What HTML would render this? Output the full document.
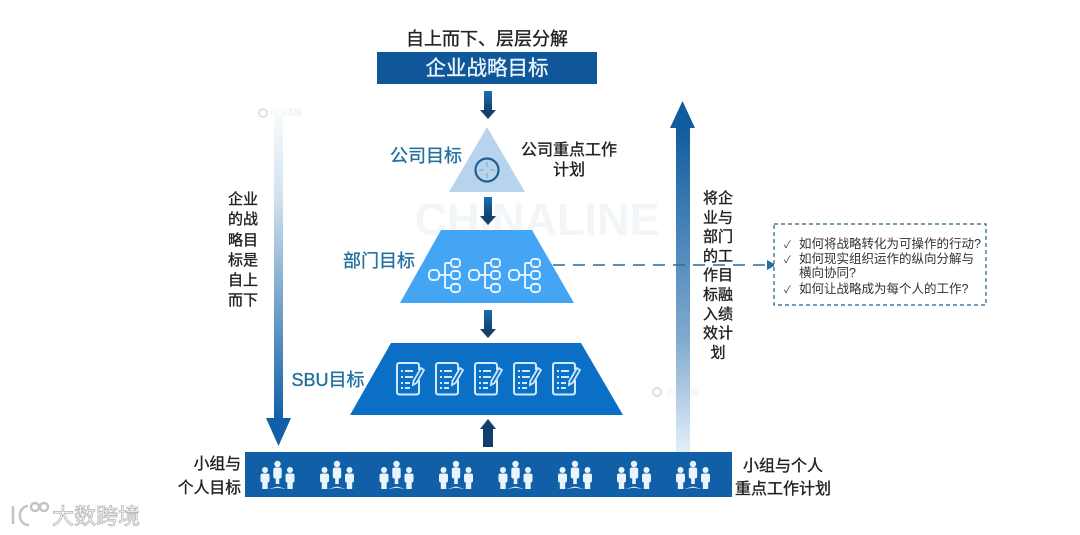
<!DOCTYPE html>
<html lang="zh">
<head>
<meta charset="utf-8">
<style>
html,body{margin:0;padding:0;background:#fff;width:1080px;height:535px;overflow:hidden}
svg{display:block;filter:blur(.35px)}
text{font-family:"Liberation Sans","Noto Sans CJK SC",sans-serif}
.h{stroke:currentColor;stroke-width:.35px}
</style>
</head>
<body>
<svg width="1080" height="535" viewBox="0 0 1080 535" xmlns="http://www.w3.org/2000/svg">
<defs>
<linearGradient id="gl" x1="0" y1="0" x2="0" y2="1"><stop offset="0" stop-color="#ffffff"/><stop offset="0.3" stop-color="#d3e2ef"/><stop offset="1" stop-color="#0f60a6"/></linearGradient>
<linearGradient id="gr" x1="0" y1="1" x2="0" y2="0"><stop offset="0" stop-color="#e4eff8"/><stop offset="0.35" stop-color="#7faacf"/><stop offset="1" stop-color="#0f5c9f"/></linearGradient>
<linearGradient id="ga" x1="0" y1="0" x2="0" y2="1"><stop offset="0" stop-color="#1c70b4"/><stop offset="1" stop-color="#0e3f6e"/></linearGradient>
<g id="arrow"><rect x="-4" y="0" width="8" height="20" fill="url(#ga)"/><path d="M-8 19H8L0 28Z" fill="#123f6b"/></g>
<g id="tree" fill="none" stroke="#e4f3fe" stroke-width="1.900">
<rect x="0" y="11" width="10" height="10" rx="3.500"/>
<rect x="22" y="0" width="9" height="8" rx="3"/>
<rect x="22" y="12" width="9" height="8" rx="3"/>
<rect x="22" y="25" width="9" height="8" rx="3"/>
<path d="M10 16H16M16 4V29M16 4H22M16 16H22M16 29H22"/>
</g>
<g id="doc">
<path d="M22 7V2.500Q22 0 19.500 0H2.500Q0 0 0 2.500V29Q0 31.500 2.500 31.500H19.500Q22 31.500 22 29V17" fill="none" stroke="#cfe9fb" stroke-width="2"/>
<path d="M4 8h2M8 8h8M4 14h2M8 14h8M4 20h2M8 20h5M4 25h2M8 25h5" stroke="#cfe9fb" stroke-width="2" fill="none"/>
<path d="M24 5l3 2-7.500 13-3.500 2 .4-4z" fill="none" stroke="#cfe9fb" stroke-width="1.800"/>
</g>
<g id="people" fill="#e9f5fd">
<circle cx="0" cy="3" r="3.200"/><rect x="-4.200" y="6.500" width="8.400" height="11" rx="2"/><rect x="-1.800" y="17" width="3.600" height="6"/>
<circle cx="-12.500" cy="9" r="3"/><rect x="-17" y="12.500" width="9" height="9" rx="2"/><rect x="-15.200" y="20" width="5.400" height="8"/>
<circle cx="12.500" cy="9" r="3"/><rect x="8" y="12.500" width="9" height="9" rx="2"/><rect x="9.800" y="20" width="5.400" height="8"/>
<path d="M-9 28L0 25.500L9 28L0 26.700Z"/>
</g>
</defs>

<!-- watermarks -->
<text x="537" y="235" text-anchor="middle" font-size="45" font-weight="700" fill="#f3f6f8" style="font-family:'Liberation Sans',sans-serif">CHINALINE</text>
<g fill="#e3ebf1" font-size="8"><circle cx="263" cy="113" r="4" fill="none" stroke="#d5e1ea" stroke-width="2"/><text x="270" y="115">小象咨询</text>
<circle cx="657" cy="392" r="4" fill="none" stroke="#d5e1ea" stroke-width="2"/><text x="666" y="395">小象咨询</text></g>

<!-- top -->
<text class="h" x="487" y="45" text-anchor="middle" font-size="18" fill="#222" color="#222">自上而下、层层分解</text>
<rect x="377" y="52" width="220" height="32" fill="#0f5799"/>
<text class="h" x="487" y="75" text-anchor="middle" font-size="20.500" fill="#e8f3fa" color="#e8f3fa">企业战略目标</text>
<use href="#arrow" x="488" y="91"/>

<!-- triangle -->
<path d="M487 127L525 192H449Z" fill="#b7d4ec"/>
<circle cx="487" cy="170" r="11.500" fill="none" stroke="#1b5f96" stroke-width="2.200"/>
<path d="M487 162v5M487 173v5M479 170h5M490 170h5" stroke="#7ba8cb" stroke-width="1"/>
<text class="h" x="426" y="162" text-anchor="middle" font-size="18" fill="#23709f" color="#23709f">公司目标</text>
<text class="h" x="569" y="155" text-anchor="middle" font-size="16" fill="#222" color="#222">公司重点工作</text>
<text class="h" x="569" y="175" text-anchor="middle" font-size="16" fill="#222" color="#222">计划</text>
<use href="#arrow" x="488" y="197"/>

<!-- mid trapezoid -->
<path d="M441 230H532L574 303H400Z" fill="#45a5f5"/>
<use href="#tree" x="429" y="259"/><use href="#tree" x="469" y="259"/><use href="#tree" x="509" y="259"/>
<text class="h" x="379" y="267" text-anchor="middle" font-size="18" fill="#23709f" color="#23709f">部门目标</text>
<use href="#arrow" x="488" y="310"/>

<!-- low trapezoid -->
<path d="M391 343H581L623 415H350Z" fill="#0a6fc5"/>
<use href="#doc" x="397" y="363"/><use href="#doc" x="436" y="363"/><use href="#doc" x="475" y="363"/><use href="#doc" x="514" y="363"/><use href="#doc" x="553" y="363"/>
<text class="h" x="328" y="386" text-anchor="middle" font-size="18" fill="#23709f" color="#23709f">SBU目标</text>

<!-- up arrow -->
<rect x="483" y="428" width="10" height="19" fill="#0e3f6e"/><path d="M480 429H496L488 419Z" fill="#123f6b"/>

<!-- left arrow -->
<rect x="274" y="100" width="9" height="320" fill="url(#gl)"/>
<path d="M266 418H291L278.500 446Z" fill="#0f60a6"/>
<g class="h" font-size="15" fill="#222" color="#222" text-anchor="middle">
<text x="243" y="204">企业</text><text x="243" y="224">的战</text><text x="243" y="245">略目</text><text x="243" y="265">标是</text><text x="243" y="285">自上</text><text x="243" y="305">而下</text>
</g>

<!-- right arrow -->
<rect x="676" y="126" width="14" height="326" fill="url(#gr)"/>
<path d="M670 128H695L682.500 101Z" fill="#0f5c9f"/>
<g class="h" font-size="15" fill="#222" color="#222" text-anchor="middle">
<text x="718" y="203">将企</text><text x="718" y="222.500">业与</text><text x="718" y="241.500">部门</text><text x="718" y="261">的工</text><text x="718" y="280">作目</text><text x="718" y="299.500">标融</text><text x="718" y="319">入绩</text><text x="718" y="338">效计</text><text x="718" y="357.500">划</text>
</g>

<!-- dashed connector -->
<path d="M553 265H768" fill="none" stroke="#2a6b9c" stroke-width="1.500" stroke-dasharray="12 8"/>
<path d="M767 260L776 265L767 270Z" fill="#2a6b9c"/>

<!-- dashed box -->
<rect x="774" y="224" width="212" height="81" fill="#fff" stroke="#1f5f8b" stroke-width="1.200" stroke-dasharray="4 3"/>
<g font-size="12.500" fill="#333">
<text x="784" y="248" font-size="10">✓</text><text x="799" y="248">如何将战略转化为可操作的行动?</text>
<text x="784" y="263" font-size="10">✓</text><text x="799" y="263">如何现实组织运作的纵向分解与</text>
<text x="799" y="277">横向协同?</text>
<text x="784" y="293" font-size="10">✓</text><text x="799" y="293">如何让战略成为每个人的工作?</text>
</g>

<!-- bottom bar -->
<rect x="245" y="452" width="487" height="45" fill="#115fa6"/>
<use href="#people" x="277.500" y="461"/><use href="#people" x="337" y="461"/><use href="#people" x="396.500" y="461"/><use href="#people" x="456" y="461"/><use href="#people" x="515.500" y="461"/><use href="#people" x="575" y="461"/><use href="#people" x="634" y="461"/><use href="#people" x="693" y="461"/>
<text class="h" x="241" y="469" text-anchor="end" font-size="15.800" fill="#222" color="#222">小组与</text>
<text class="h" x="241" y="493" text-anchor="end" font-size="15.800" fill="#222" color="#222">个人目标</text>
<text class="h" x="783" y="471" text-anchor="middle" font-size="16" fill="#222" color="#222">小组与个人</text>
<text class="h" x="783" y="494" text-anchor="middle" font-size="16" fill="#222" color="#222">重点工作计划</text>

<!-- logo -->
<g fill="none" stroke="#c4c4c4" stroke-width="2.500">
<path d="M13 506V524M28 506C17 507 17 525 29 525"/>
<circle cx="35" cy="507" r="4"/><circle cx="44" cy="507" r="4"/>
</g>
<text x="52" y="524" font-size="22" fill="#fff" stroke="#b5b5b5" stroke-width="0.800">大数跨境</text>
</svg>
</body>
</html>
